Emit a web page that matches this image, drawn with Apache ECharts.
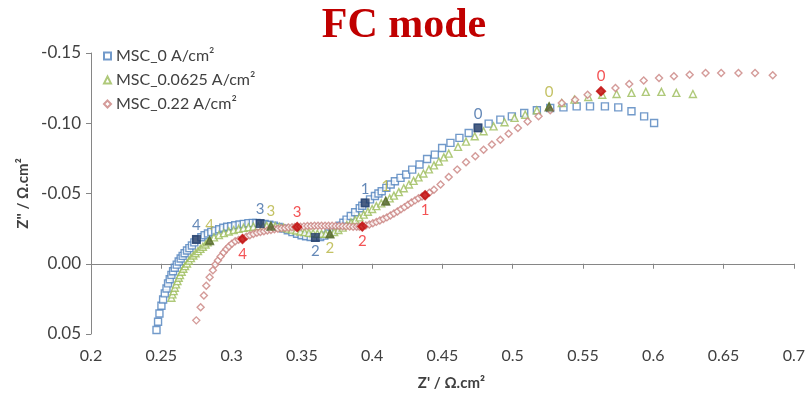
<!DOCTYPE html>
<html>
<head>
<meta charset="utf-8">
<script src="https://cdn.jsdelivr.net/npm/echarts@6/dist/echarts.min.js"></script>
<style>html,body{margin:0;padding:0;background:#fff}#c{width:808px;height:401px}</style>
</head>
<body>
<div id="c"></div>
<script>
const seriesNames = ['MSC_0 A/cm²', 'MSC_0.0625 A/cm²', 'MSC_0.22 A/cm²'];

const msc0 = [[0.2466,0.0472],[0.2477,0.0413],[0.2487,0.0354],[0.2501,0.0299],[0.2513,0.0254],[0.2525,0.0211],[0.2537,0.0176],[0.2548,0.0140],[0.2560,0.0110],[0.2572,0.0079],[0.2584,0.0053],[0.2596,0.0029],[0.2610,0.0006],[0.2624,-0.0016],[0.2638,-0.0037],[0.2652,-0.0056],[0.2666,-0.0075],[0.2683,-0.0094],[0.2700,-0.0111],[0.2718,-0.0130],[0.2735,-0.0152],[0.2750,-0.0173],[0.2785,-0.0189],[0.2808,-0.0203],[0.2832,-0.0215],[0.2856,-0.0227],[0.2884,-0.0236],[0.2912,-0.0246],[0.2941,-0.0256],[0.2969,-0.0263],[0.2998,-0.0267],[0.3026,-0.0274],[0.3057,-0.0279],[0.3087,-0.0284],[0.3120,-0.0289],[0.3151,-0.0291],[0.3177,-0.0290],[0.3203,-0.0286],[0.3235,-0.0283],[0.3268,-0.0278],[0.3300,-0.0271],[0.3335,-0.0262],[0.3368,-0.0250],[0.3400,-0.0238],[0.3433,-0.0225],[0.3466,-0.0213],[0.3498,-0.0203],[0.3530,-0.0196],[0.3563,-0.0190],[0.3596,-0.0187],[0.3630,-0.0190],[0.3660,-0.0200],[0.3690,-0.0215],[0.3718,-0.0232],[0.3745,-0.0250],[0.3770,-0.0270],[0.3795,-0.0292],[0.3818,-0.0314],[0.3848,-0.0340],[0.3879,-0.0367],[0.3912,-0.0395],[0.3930,-0.0413],[0.3950,-0.0433],[0.3985,-0.0458],[0.4020,-0.0482],[0.4045,-0.0500],[0.4068,-0.0516],[0.4101,-0.0540],[0.4132,-0.0564],[0.4162,-0.0587],[0.4202,-0.0611],[0.4242,-0.0635],[0.4285,-0.0670],[0.4337,-0.0706],[0.4391,-0.0746],[0.4446,-0.0777],[0.4498,-0.0824],[0.4557,-0.0860],[0.4621,-0.0896],[0.4687,-0.0931],[0.4753,-0.0967],[0.4829,-0.0997],[0.4912,-0.1026],[0.4994,-0.1049],[0.5082,-0.1073],[0.5172,-0.1092],[0.5267,-0.1109],[0.5361,-0.1113],[0.5455,-0.1120],[0.5550,-0.1120],[0.5656,-0.1120],[0.5751,-0.1113],[0.5845,-0.1085],[0.5935,-0.1049],[0.6006,-0.1002]];

const msc0625 = [[0.2572,0.0242],[0.2579,0.0218],[0.2588,0.0195],[0.2596,0.0171],[0.2605,0.0147],[0.2615,0.0124],[0.2624,0.0100],[0.2633,0.0081],[0.2645,0.0057],[0.2657,0.0036],[0.2669,0.0017],[0.2683,-0.0002],[0.2697,-0.0021],[0.2711,-0.0040],[0.2728,-0.0059],[0.2744,-0.0075],[0.2761,-0.0090],[0.2778,-0.0106],[0.2796,-0.0121],[0.2815,-0.0137],[0.2830,-0.0152],[0.2844,-0.0168],[0.2875,-0.0188],[0.2910,-0.0205],[0.2945,-0.0218],[0.2980,-0.0230],[0.3015,-0.0240],[0.3050,-0.0248],[0.3085,-0.0255],[0.3120,-0.0260],[0.3155,-0.0264],[0.3190,-0.0267],[0.3225,-0.0269],[0.3250,-0.0270],[0.3280,-0.0270],[0.3310,-0.0268],[0.3340,-0.0263],[0.3370,-0.0257],[0.3400,-0.0250],[0.3430,-0.0243],[0.3460,-0.0237],[0.3490,-0.0230],[0.3520,-0.0225],[0.3550,-0.0220],[0.3580,-0.0217],[0.3610,-0.0214],[0.3640,-0.0213],[0.3670,-0.0213],[0.3700,-0.0215],[0.3730,-0.0225],[0.3760,-0.0240],[0.3790,-0.0257],[0.3820,-0.0275],[0.3850,-0.0293],[0.3880,-0.0312],[0.3910,-0.0330],[0.3940,-0.0350],[0.3970,-0.0370],[0.4000,-0.0390],[0.4030,-0.0410],[0.4065,-0.0430],[0.4097,-0.0448],[0.4125,-0.0465],[0.4155,-0.0485],[0.4190,-0.0510],[0.4225,-0.0537],[0.4262,-0.0564],[0.4295,-0.0590],[0.4330,-0.0615],[0.4365,-0.0642],[0.4404,-0.0672],[0.4440,-0.0700],[0.4475,-0.0728],[0.4510,-0.0757],[0.4545,-0.0784],[0.4611,-0.0832],[0.4668,-0.0869],[0.4730,-0.0907],[0.4793,-0.0943],[0.4864,-0.0978],[0.4942,-0.1007],[0.5013,-0.1038],[0.5089,-0.1061],[0.5172,-0.1092],[0.5259,-0.1120],[0.5349,-0.1144],[0.5439,-0.1168],[0.5538,-0.1187],[0.5637,-0.1203],[0.5739,-0.1208],[0.5845,-0.1216],[0.5947,-0.1223],[0.6058,-0.1223],[0.6164,-0.1216],[0.6282,-0.1208]];

const msc022 = [[0.2749,0.0403],[0.2780,0.0309],[0.2803,0.0226],[0.2820,0.0157],[0.2844,0.0096],[0.2867,0.0046],[0.2884,0.0006],[0.2903,-0.0023],[0.2922,-0.0052],[0.2943,-0.0080],[0.2962,-0.0104],[0.2981,-0.0123],[0.3002,-0.0142],[0.3026,-0.0160],[0.3050,-0.0170],[0.3078,-0.0177],[0.3105,-0.0192],[0.3130,-0.0203],[0.3155,-0.0212],[0.3180,-0.0220],[0.3205,-0.0226],[0.3230,-0.0231],[0.3255,-0.0236],[0.3280,-0.0241],[0.3305,-0.0245],[0.3330,-0.0249],[0.3355,-0.0252],[0.3380,-0.0255],[0.3405,-0.0258],[0.3430,-0.0260],[0.3450,-0.0261],[0.3467,-0.0262],[0.3490,-0.0264],[0.3515,-0.0266],[0.3540,-0.0268],[0.3565,-0.0269],[0.3590,-0.0270],[0.3615,-0.0271],[0.3640,-0.0271],[0.3665,-0.0271],[0.3690,-0.0271],[0.3715,-0.0270],[0.3740,-0.0269],[0.3765,-0.0268],[0.3790,-0.0267],[0.3815,-0.0266],[0.3840,-0.0265],[0.3865,-0.0264],[0.3890,-0.0264],[0.3910,-0.0264],[0.3930,-0.0265],[0.3955,-0.0272],[0.3980,-0.0280],[0.4005,-0.0289],[0.4030,-0.0298],[0.4055,-0.0308],[0.4080,-0.0318],[0.4105,-0.0330],[0.4130,-0.0343],[0.4155,-0.0357],[0.4180,-0.0372],[0.4205,-0.0388],[0.4230,-0.0403],[0.4255,-0.0420],[0.4280,-0.0436],[0.4305,-0.0451],[0.4330,-0.0466],[0.4355,-0.0478],[0.4377,-0.0488],[0.4407,-0.0505],[0.4440,-0.0527],[0.4487,-0.0564],[0.4545,-0.0618],[0.4605,-0.0670],[0.4668,-0.0722],[0.4734,-0.0765],[0.4793,-0.0812],[0.4852,-0.0848],[0.4912,-0.0883],[0.4971,-0.0926],[0.5037,-0.0967],[0.5106,-0.1012],[0.5184,-0.1049],[0.5267,-0.1092],[0.5349,-0.1144],[0.5444,-0.1168],[0.5533,-0.1203],[0.5628,-0.1227],[0.5731,-0.1251],[0.5829,-0.1280],[0.5932,-0.1305],[0.6041,-0.1322],[0.6147,-0.1334],[0.6259,-0.1346],[0.6372,-0.1358],[0.6483,-0.1358],[0.6606,-0.1358],[0.6724,-0.1358],[0.6850,-0.1341]];

// highlighted frequency points and their labels
const keyLabels = ['0', '1', '2', '3', '4'];
const msc0Key = [[0.4753,-0.0967],[0.3950,-0.0433],[0.3596,-0.0187],[0.3203,-0.0286],[0.2750,-0.0173]];
const msc0625Key = [[0.5259,-0.1120],[0.4097,-0.0448],[0.3700,-0.0215],[0.3280,-0.0270],[0.2844,-0.0168]];
const msc022Key = [[0.5628,-0.1227],[0.4377,-0.0488],[0.3930,-0.0265],[0.3467,-0.0262],[0.3078,-0.0177]];

const xMin = 0.2, xMax = 0.7, xStep = 0.05;
const yMin = -0.15, yMax = 0.05, yStep = 0.05;

// styles (kept apart from data)
const FONT = 'Lato, "Open Sans", sans-serif';
const styles = [
  {sym: 'rect', size: 7, stroke: '#4F81BD', keyFill: '#1F3864', keySize: 9, labelColor: '#3D6AA5', pos: ['top','top','bottom','top','top']},
  {sym: 'triangle', size: 7, stroke: '#9BBB59', keyFill: '#4F6228', keySize: 10, labelColor: '#B5B33E', pos: ['top','top','bottom','top','top']},
  {sym: 'diamond', size: 7, stroke: '#C98280', keyFill: '#C00000', keySize: 11, labelColor: '#F0282A', pos: ['top','bottom','bottom','top','bottom']}
];
const mainData = [msc0, msc0625, msc022];
const keyData = [msc0Key, msc0625Key, msc022Key];

const series = [];
mainData.forEach((d, i) => {
  const s = styles[i];
  series.push({
    name: seriesNames[i], type: 'scatter', data: d,
    symbol: s.sym, symbolSize: s.size, z: 2,
    itemStyle: {color: '#ffffff', borderColor: s.stroke, borderWidth: 1.4},
    emphasis: {disabled: true}
  });
});
keyData.forEach((d, i) => {
  const s = styles[i];
  series.push({
    name: seriesNames[i] + ' key', type: 'scatter', z: 5,
    symbol: s.sym, symbolSize: s.keySize,
    itemStyle: {color: s.keyFill},
    emphasis: {disabled: true},
    data: d.map((p, j) => ({
      value: p,
      label: {show: true, formatter: keyLabels[j], position: s.pos[j], distance: 2,
        color: s.labelColor, fontSize: 15, fontFamily: FONT}
    }))
  });
});

const fmtX = v => String(parseFloat(v.toFixed(2)));
const fmtY = v => (Math.abs(v) < 1e-9 ? 0 : v).toFixed(2);

const option = {
  backgroundColor: '#ffffff',
  animation: false,
  title: {
    text: 'FC mode', left: 'center', top: 0,
    textStyle: {fontFamily: '"Liberation Serif", serif', fontWeight: 'bold', fontSize: 42, color: '#C00000'}
  },
  legend: {
    orient: 'vertical', left: 103, top: 48, padding: 0, itemGap: 8,
    itemWidth: 7, itemHeight: 7,
    data: seriesNames,
    textStyle: {fontFamily: FONT, fontSize: 16, color: '#404040'}
  },
  grid: {left: 91, right: 11, top: 53, bottom: 67, containLabel: false},
  xAxis: [
    {
      type: 'value', min: xMin, max: xMax, interval: xStep, position: 'top',
      axisLine: {show: true, onZero: true, lineStyle: {color: '#868686', width: 1}},
      axisTick: {show: true, inside: true, length: 5, lineStyle: {color: '#868686'}},
      axisLabel: {show: false}, splitLine: {show: false}
    },
    {
      type: 'value', min: xMin, max: xMax, interval: xStep, position: 'bottom',
      axisLine: {show: false, onZero: false}, axisTick: {show: false}, splitLine: {show: false},
      axisLabel: {show: true, formatter: fmtX, margin: 14, color: '#404040', fontSize: 16, fontFamily: FONT},
      name: "Z' / Ω.cm²", nameLocation: 'middle', nameGap: 42,
      nameTextStyle: {fontFamily: FONT, fontWeight: 'bold', fontSize: 15, color: '#404040', padding: [0, 0, 0, 18]}
    }
  ],
  yAxis: {
    type: 'value', inverse: true, min: yMin, max: yMax, interval: yStep,
    axisLine: {show: true, onZero: false, lineStyle: {color: '#868686', width: 1}},
    axisTick: {show: true, inside: false, length: 5, lineStyle: {color: '#868686'}},
    splitLine: {show: false},
    axisLabel: {formatter: fmtY, margin: 10, color: '#404040', fontSize: 17, fontFamily: FONT},
    name: "Z'' / Ω.cm²", nameLocation: 'middle', nameGap: 60, nameRotate: 90,
    nameTextStyle: {fontFamily: FONT, fontWeight: 'bold', fontSize: 15, color: '#404040'}
  },
  series: series
};

const chart = echarts.init(document.getElementById('c'), null, {renderer: 'canvas'});
chart.setOption(option);
</script>
</body>
</html>
